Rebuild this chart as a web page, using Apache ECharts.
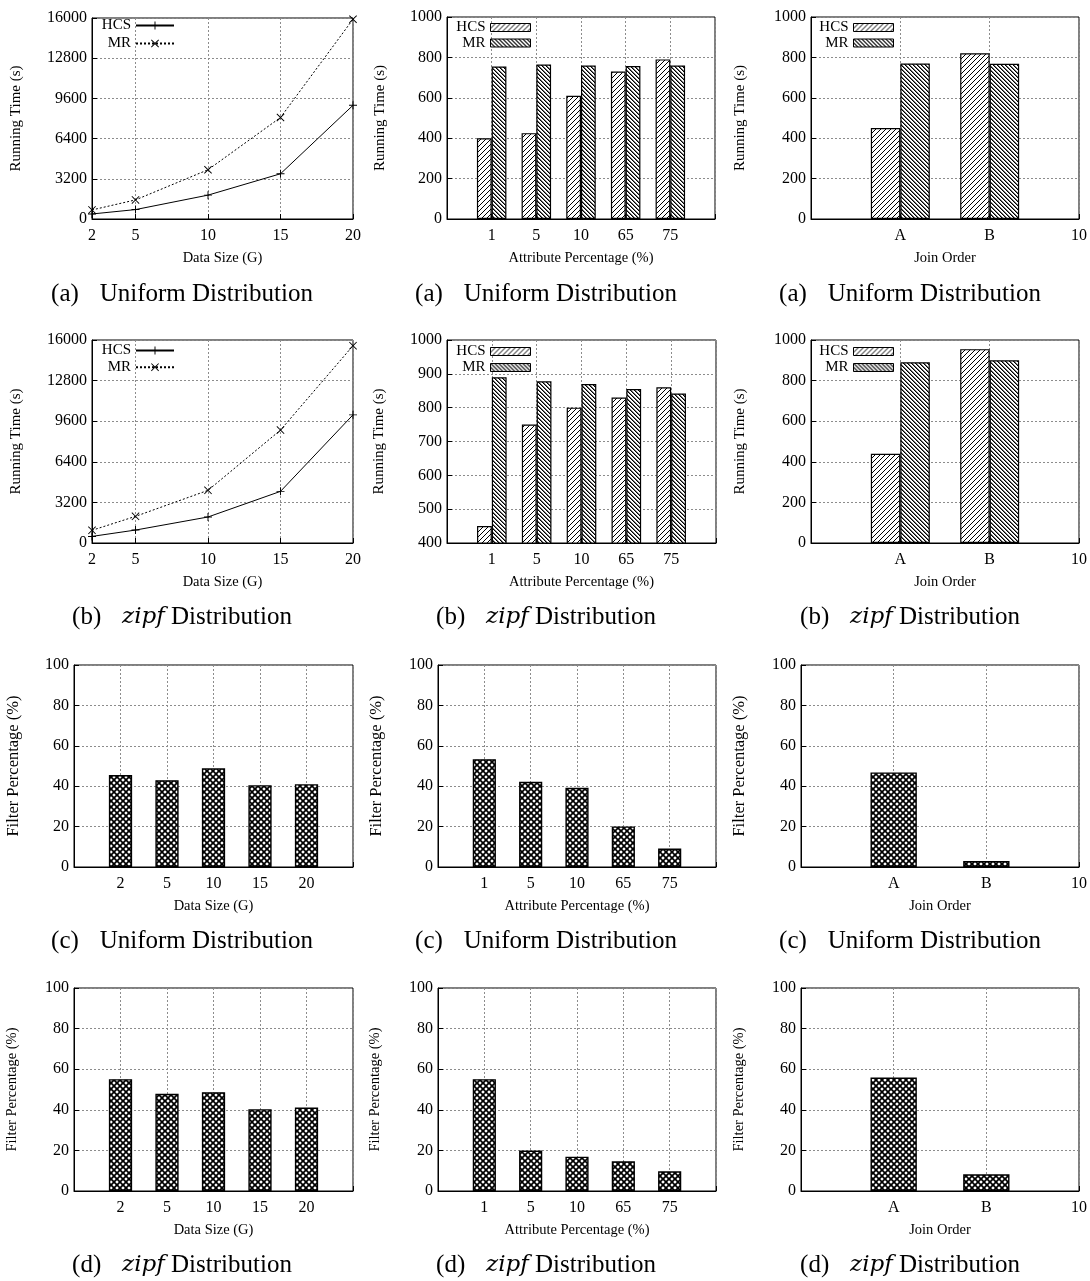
<!DOCTYPE html>
<html>
<head>
<meta charset="utf-8">
<script src="https://cdn.jsdelivr.net/npm/echarts@6/dist/echarts.min.js"></script>
<style>
  html, body { margin: 0; padding: 0; background: #fff; }
  #chart { width: 1090px; height: 1281px; }
</style>
</head>
<body>
<div id="chart"></div>
<script>
// ---------- categories and tick labels ----------
const dataSizes = [2, 5, 10, 15, 20];
const dataSizeTicks = [2, 5, 10, 15, 20];
const sizeCategories = ['', '2', '5', '10', '15', '20', ''];
const attrCategories = ['', '1', '5', '10', '65', '75', ''];
const joinCategories = ['', 'A', 'B', '10'];
const seriesNames = ['HCS', 'MR'];

// ---------- running time vs data size (s) ----------
const uniformSizeHCS = [400, 750, 1900, 3600, 9050];
const uniformSizeMR = [720, 1520, 3920, 8080, 15900];
const zipfSizeHCS = [520, 1020, 2050, 4070, 10100];
const zipfSizeMR = [1000, 2100, 4150, 8900, 15550];

// ---------- running time vs attribute percentage (s) ----------
const uniformAttrHCS = [400, 425, 610, 730, 790];
const uniformAttrMR = [755, 765, 760, 757, 760];
const zipfAttrHCS = [450, 750, 800, 830, 860];
const zipfAttrMR = [890, 878, 870, 855, 842];

// ---------- running time vs join order (s) ----------
const uniformJoinHCS = [450, 820];
const uniformJoinMR = [770, 768];
const zipfJoinHCS = [440, 955];
const zipfJoinMR = [890, 900];

// ---------- filter percentage (%) ----------
const uniformFilterSize = [45.5, 43, 48.9, 40.5, 41];
const uniformFilterAttr = [53.4, 42.2, 39.2, 20.1, 9.1];
const uniformFilterJoin = [46.8, 3];
const zipfFilterSize = [55.1, 47.9, 48.7, 40.3, 41.1];
const zipfFilterAttr = [55.1, 19.9, 16.9, 14.6, 9.7];
const zipfFilterJoin = [55.9, 8.2];

// ---------- fill patterns ----------
const FONT = 'Liberation Serif';

function makePattern(size, lineWidth, dirs, stroke) {
  const c = document.createElement('canvas');
  c.width = size; c.height = size;
  const g = c.getContext('2d');
  g.fillStyle = '#fff';
  g.fillRect(0, 0, size, size);
  g.strokeStyle = stroke || '#000';
  g.lineWidth = lineWidth;
  if (dirs.indexOf('/') >= 0) {
    for (const k of [0, size, 2 * size]) {
      g.beginPath(); g.moveTo(k + 1, -1); g.lineTo(-1, k + 1); g.stroke();
    }
  }
  if (dirs.indexOf('\\') >= 0) {
    for (const k of [-size, 0, size]) {
      g.beginPath(); g.moveTo(-1, k - 1); g.lineTo(size + 1, k + size + 1); g.stroke();
    }
  }
  return { image: c, repeat: 'repeat' };
}

// fine pixel weave: dark '\' diagonal with a grey companion pixel
function makeWeave() {
  const size = 4;
  const c = document.createElement('canvas');
  c.width = size; c.height = size;
  const g = c.getContext('2d');
  g.fillStyle = '#fff';
  g.fillRect(0, 0, size, size);
  for (let i = 0; i < size; i++) {
    g.fillStyle = '#000';
    g.fillRect(i, i, 1, 1);
    g.fillStyle = '#6e6e6e';
    g.fillRect((i + 1) % size, i, 1, 1);
  }
  return { image: c, repeat: 'repeat' };
}

const hatchFill = makePattern(5, 1, '/');
const denseFill = makeWeave();
const crossFill = makePattern(6, 1.7, '/\\');

const plusPath = 'path://M4.4,0H5.6V4.4H10V5.6H5.6V10H4.4V5.6H0V4.4H4.4Z';
const crossPath = 'path://M0,0.8L0.8,0L5,4.2L9.2,0L10,0.8L5.8,5L10,9.2L9.2,10L5,5.8L0.8,10L0,9.2L4.2,5Z';

function pad(values) { return ['-'].concat(values, ['-']); }

// ---------- panel layout ----------
const panels = [
  { kind: 'line', box: [92, 18, 261, 201], y: [0, 16000, 3200], yName: 'Running Time (s)', yGap: 68, yNameSize: 15,
    xName: 'Data Size (G)', data: [uniformSizeHCS, uniformSizeMR], legend: { right: 915, top: 18, gap: 3 } },
  { kind: 'pair', cats: attrCategories, box: [447, 17, 268, 202], y: [0, 1000, 200], yName: 'Running Time (s)', yGap: 59, yNameSize: 15,
    xName: 'Attribute Percentage (%)', data: [uniformAttrHCS, uniformAttrMR], legend: { right: 559, top: 20, gap: 0.5 } },
  { kind: 'pair', cats: joinCategories, box: [811, 17, 268, 202], y: [0, 1000, 200], yName: 'Running Time (s)', yGap: 63, yNameSize: 15,
    xName: 'Join Order', data: [uniformJoinHCS, uniformJoinMR], legend: { right: 196, top: 20, gap: 0.5 } },

  { kind: 'line', box: [92, 340, 261, 203], y: [0, 16000, 3200], yName: 'Running Time (s)', yGap: 68, yNameSize: 15,
    xName: 'Data Size (G)', data: [zipfSizeHCS, zipfSizeMR], legend: { right: 915, top: 343, gap: 1.7 } },
  { kind: 'pair', cats: attrCategories, box: [447, 340, 269, 203], y: [400, 1000, 100], yName: 'Running Time (s)', yGap: 60, yNameSize: 15,
    xName: 'Attribute Percentage (%)', data: [zipfAttrHCS, zipfAttrMR], legend: { right: 559, top: 344, gap: 1 } },
  { kind: 'pair', cats: joinCategories, box: [811, 340, 268, 203], y: [0, 1000, 200], yName: 'Running Time (s)', yGap: 63, yNameSize: 15,
    xName: 'Join Order', data: [zipfJoinHCS, zipfJoinMR], legend: { right: 196, top: 344, gap: 1 } },

  { kind: 'single', cats: sizeCategories, box: [74, 665, 279, 202], y: [0, 100, 20], yName: 'Filter Percentage (%)', yGap: 52, yNameSize: 16.5,
    xName: 'Data Size (G)', data: [uniformFilterSize] },
  { kind: 'single', cats: attrCategories, box: [438, 665, 278, 202], y: [0, 100, 20], yName: 'Filter Percentage (%)', yGap: 53, yNameSize: 16.5,
    xName: 'Attribute Percentage (%)', data: [uniformFilterAttr] },
  { kind: 'single', cats: joinCategories, box: [801, 665, 278, 202], y: [0, 100, 20], yName: 'Filter Percentage (%)', yGap: 53, yNameSize: 16.5,
    xName: 'Join Order', data: [uniformFilterJoin] },

  { kind: 'single', cats: sizeCategories, box: [74, 988, 279, 203], y: [0, 100, 20], yName: 'Filter Percentage (%)', yGap: 54, yNameSize: 14.5,
    xName: 'Data Size (G)', data: [zipfFilterSize] },
  { kind: 'single', cats: attrCategories, box: [438, 988, 278, 203], y: [0, 100, 20], yName: 'Filter Percentage (%)', yGap: 55, yNameSize: 14.5,
    xName: 'Attribute Percentage (%)', data: [zipfFilterAttr] },
  { kind: 'single', cats: joinCategories, box: [801, 988, 278, 203], y: [0, 100, 20], yName: 'Filter Percentage (%)', yGap: 54, yNameSize: 14.5,
    xName: 'Join Order', data: [zipfFilterJoin] }
];

// sub-figure captions
const captionRows = [
  { y: 294, label: '(a)', zipf: false },
  { y: 617, label: '(b)', zipf: true },
  { y: 941, label: '(c)', zipf: false },
  { y: 1265, label: '(d)', zipf: true }
];
const captionCenters = [182, 546, 910];

const grid = [], xAxis = [], yAxis = [], series = [], legend = [], graphic = [];
const gridLine = { show: true, lineStyle: { color: '#8c8c8c', width: 1, type: [2, 2] } };
const axisLineStyle = { show: true, lineStyle: { color: '#000', width: 1 } };
const tickLabel = { color: '#000', fontFamily: FONT, fontSize: 16 };

panels.forEach((p, i) => {
  grid.push({ left: p.box[0], top: p.box[1], width: p.box[2], height: p.box[3],
    show: true, borderColor: '#000', borderWidth: 1, backgroundColor: 'transparent', containLabel: false });

  const nameStyle = { color: '#000', fontFamily: FONT, fontSize: 14.5 };
  if (p.kind === 'line') {
    xAxis.push({ type: 'value', gridIndex: i, min: 2, max: 20,
      axisLine: axisLineStyle, axisTick: { show: true, inside: true, length: 5, customValues: dataSizeTicks, lineStyle: { color: '#000' } },
      axisLabel: Object.assign({ margin: 9, customValues: dataSizeTicks }, tickLabel),
      splitLine: gridLine, name: p.xName, nameLocation: 'middle', nameGap: 32, nameTextStyle: nameStyle });
  } else {
    xAxis.push({ type: 'category', gridIndex: i, data: p.cats, boundaryGap: false,
      axisLine: axisLineStyle, axisTick: { show: true, inside: true, length: 5, interval: 0, lineStyle: { color: '#000' } },
      axisLabel: Object.assign({ margin: 9, interval: 0 }, tickLabel),
      splitLine: Object.assign({ interval: 0 }, gridLine), name: p.xName, nameLocation: 'middle', nameGap: 32, nameTextStyle: nameStyle });
  }
  yAxis.push({ type: 'value', gridIndex: i, min: p.y[0], max: p.y[1], interval: p.y[2],
    axisLine: axisLineStyle, axisTick: { show: true, inside: true, length: 5, lineStyle: { color: '#000' } },
    axisLabel: Object.assign({ margin: 5, formatter: v => String(v) }, tickLabel),
    splitLine: gridLine, name: p.yName, nameLocation: 'middle', nameRotate: 90, nameGap: p.yGap,
    nameTextStyle: { color: '#000', fontFamily: FONT, fontSize: p.yNameSize } });

  const tag = '|' + i;
  if (p.kind === 'line') {
    p.data.forEach((vals, s) => {
      series.push({ type: 'line', name: seriesNames[s] + tag, xAxisIndex: i, yAxisIndex: i,
        data: dataSizes.map((x, j) => [x, vals[j]]),
        symbol: s === 0 ? plusPath : crossPath, symbolSize: 8, clip: false,
        lineStyle: { color: '#000', width: 1, type: s === 0 ? 'solid' : [2, 2] },
        itemStyle: { color: '#000' }, emphasis: { disabled: true } });
    });
  } else if (p.kind === 'pair') {
    p.data.forEach((vals, s) => {
      series.push({ type: 'bar', name: seriesNames[s] + tag, xAxisIndex: i, yAxisIndex: i,
        data: pad(vals), barWidth: '33%', barGap: '0%',
        itemStyle: { color: s === 0 ? hatchFill : denseFill, borderColor: '#000', borderWidth: 1.2 },
        emphasis: { disabled: true } });
    });
  } else {
    series.push({ type: 'bar', name: 'Filter' + tag, xAxisIndex: i, yAxisIndex: i,
      data: pad(p.data[0]), barWidth: '50%',
      itemStyle: { color: crossFill, borderColor: '#000', borderWidth: 1.4 },
      emphasis: { disabled: true } });
  }

  if (p.legend) {
    const isLine = p.kind === 'line';
    legend.push({ orient: 'vertical', right: p.legend.right, top: p.legend.top, padding: 0,
      itemGap: p.legend.gap, align: 'right', selectedMode: false,
      itemWidth: isLine ? 38 : 40, itemHeight: isLine ? 10 : 8,
      icon: isLine ? undefined : 'rect',
      itemStyle: isLine ? { borderWidth: 0 } : { borderColor: '#000', borderWidth: 1 },
      data: seriesNames.map(n => n + tag),
      formatter: n => n.split('|')[0],
      textStyle: { color: '#000', fontFamily: FONT, fontSize: 15, lineHeight: 14 } });
  }
});

captionRows.forEach(row => {
  captionCenters.forEach(cx => {
    graphic.push({ type: 'text', x: cx, y: row.y, silent: true,
      style: {
        text: row.label + '   \u200A' + (row.zipf ? '{i|zipf} Distribution' : 'Uniform Distribution'),
        align: 'center', verticalAlign: 'middle', fill: '#000',
        fontFamily: FONT, fontSize: 25,
        rich: { i: { fontFamily: 'DejaVu Serif', fontSize: 23, fontStyle: 'italic', fill: '#000' } }
      } });
  });
});

const chart = echarts.init(document.getElementById('chart'), null, { renderer: 'canvas' });
chart.setOption({
  animation: false,
  backgroundColor: '#fff',
  textStyle: { fontFamily: FONT },
  grid, xAxis, yAxis, series, legend, graphic
});
</script>
</body>
</html>
